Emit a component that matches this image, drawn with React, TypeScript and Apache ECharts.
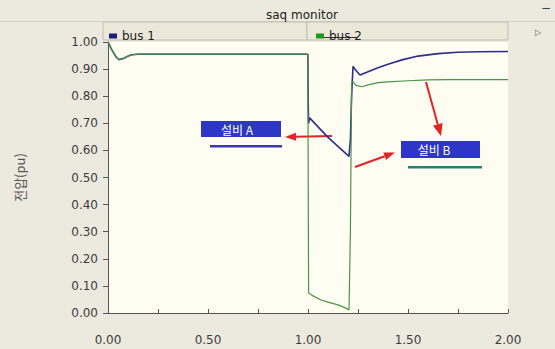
import React, { useEffect, useRef } from "react";
import * as echarts from "echarts";

// ---- data (time in s, voltage in pu) ----
const bus1Time = [0, 0.02, 0.04, 0.055, 0.08, 0.1, 0.12, 0.15, 0.5, 0.999, 1.0, 1.001, 1.003, 1.008, 1.1, 1.205, 1.212, 1.218, 1.225, 1.24, 1.26, 1.3, 1.35, 1.4, 1.47, 1.55, 1.65, 1.75, 1.85, 2.0];
const bus1Volt = [1.0, 0.97, 0.945, 0.935, 0.94, 0.948, 0.953, 0.955, 0.955, 0.955, 0.955, 0.78, 0.7, 0.72, 0.648, 0.578, 0.64, 0.8, 0.91, 0.895, 0.878, 0.89, 0.905, 0.918, 0.934, 0.948, 0.957, 0.962, 0.964, 0.965];
const bus2Time = [0, 0.02, 0.04, 0.055, 0.08, 0.1, 0.12, 0.15, 0.5, 0.999, 1.0, 1.003, 1.02, 1.065, 1.1, 1.15, 1.19, 1.205, 1.212, 1.218, 1.225, 1.24, 1.27, 1.3, 1.35, 1.4, 1.5, 1.6, 1.7, 2.0];
const bus2Volt = [1.0, 0.97, 0.945, 0.935, 0.94, 0.948, 0.953, 0.955, 0.955, 0.955, 0.955, 0.075, 0.065, 0.048, 0.04, 0.03, 0.018, 0.011, 0.3, 0.85, 0.853, 0.84, 0.835, 0.842, 0.85, 0.853, 0.857, 0.86, 0.861, 0.861];

const seriesNames = ["bus 1", "bus 2"];
const yTicks = { min: 0, max: 1, step: 0.1 };
const xTicks = { min: 0, max: 2, step: 0.5 };
const titleText = "saq monitor";
const yAxisTitle = "전압(pu)";
const noteA = "설비 A";
const noteB = "설비 B";

const pairs = (t: number[], v: number[]) => t.map((x, i) => [x, v[i]]);

const FONT = "DejaVu Sans";
const RED = "#e12424";

function arrow(x1: number, y1: number, x2: number, y2: number, len: number, half: number) {
  const dx = x2 - x1, dy = y2 - y1;
  const d = Math.sqrt(dx * dx + dy * dy);
  const ux = dx / d, uy = dy / d;
  const bx = x2 - ux * len, by = y2 - uy * len;
  const px = -uy * half, py = ux * half;
  return [
    { type: "line", shape: { x1, y1, x2: bx, y2: by }, style: { stroke: RED, lineWidth: 2 } },
    { type: "polygon", shape: { points: [[x2, y2], [bx + px, by + py], [bx - px, by - py]] }, style: { fill: RED } },
  ];
}

export default function App() {
  const ref = useRef<HTMLDivElement>(null);
  useEffect(() => {
    if (!ref.current) return;
    const chart = echarts.init(ref.current, null, { renderer: "svg" });
    chart.setOption({
      animation: false,
      backgroundColor: "#ece9de",
      textStyle: { fontFamily: FONT },
      title: {
        text: titleText,
        left: 297,
        top: 4,
        textAlign: "center",
        textStyle: { fontSize: 12, fontWeight: "normal", color: "#222", fontFamily: FONT },
      },
      legend: [
        { data: [seriesNames[0]], left: 104, top: 25, icon: "rect", itemWidth: 8, itemHeight: 5, itemGap: 5, textStyle: { fontSize: 12, color: "#222", fontFamily: FONT }, selectedMode: false },
        { data: [seriesNames[1]], left: 311, top: 25, icon: "rect", itemWidth: 8, itemHeight: 5, itemGap: 5, textStyle: { fontSize: 12, color: "#222", fontFamily: FONT }, selectedMode: false },
      ],
      grid: {
        left: 108,
        right: 47,
        top: 42,
        bottom: 36,
        show: true,
        backgroundColor: "#fffcf1",
        borderWidth: 0,
      },
      xAxis: {
        type: "value",
        min: xTicks.min,
        max: xTicks.max,
        interval: xTicks.step,
        offset: 15,
        axisLine: { show: true, lineStyle: { color: "#555", width: 1 } },
        axisTick: { show: true, inside: true, length: 4, lineStyle: { color: "#555" } },
        minorTick: { show: true, splitNumber: 2, length: 4, lineStyle: { color: "#555" } },
        splitLine: { show: false },
        axisLabel: { margin: 6, fontSize: 12, color: "#3c3c3c", fontFamily: FONT, formatter: (v: number) => v.toFixed(2) },
      },
      yAxis: {
        type: "value",
        min: yTicks.min,
        max: yTicks.max,
        interval: yTicks.step,
        name: yAxisTitle,
        nameLocation: "middle",
        nameRotate: 90,
        nameGap: 82,
        nameTextStyle: { fontSize: 13, color: "#555", fontFamily: "Noto Sans CJK KR" },
        axisLine: { show: true, lineStyle: { color: "#555", width: 1 } },
        axisTick: { show: true, length: 5, lineStyle: { color: "#555" } },
        splitLine: { show: false },
        axisLabel: { margin: 10, fontSize: 12, color: "#3c3c3c", fontFamily: FONT, formatter: (v: number) => v.toFixed(2) },
      },
      series: [
        {
          name: seriesNames[0],
          type: "line",
          data: pairs(bus1Time, bus1Volt),
          showSymbol: false,
          color: "#1c1c80",
          lineStyle: { width: 1.6, color: "#2d2d90" },
        },
        {
          name: seriesNames[1],
          type: "line",
          data: pairs(bus2Time, bus2Volt),
          showSymbol: false,
          color: "#1a9a1a",
          lineStyle: { width: 1.2, color: "#4a944a" },
        },
      ],
      graphic: [
        { type: "rect", z: -1, shape: { x: 0, y: 21, width: 555, height: 1 }, style: { fill: "#d8d4c4" } },
        { type: "rect", z: -1, shape: { x: 103, y: 22, width: 204, height: 18 }, style: { fill: "#ebe8da", stroke: "#c2beae", lineWidth: 1 } },
        { type: "rect", z: -1, shape: { x: 307, y: 22, width: 201, height: 18 }, style: { fill: "#ebe8da", stroke: "#c2beae", lineWidth: 1 } },
        { type: "line", shape: { x1: 324, y1: 37.5, x2: 357, y2: 37.5 }, style: { stroke: "#333", lineWidth: 1 } },
        { type: "text", x: 546, y: 8, style: { text: "−", fontSize: 12, fill: "#444", align: "center", verticalAlign: "middle", fontFamily: FONT } },
        { type: "text", x: 538, y: 32, style: { text: "▷", fontSize: 8, fill: "#555", align: "center", verticalAlign: "middle", fontFamily: FONT } },
        // note A
        { type: "rect", shape: { x: 201, y: 121, width: 80, height: 16 }, style: { fill: "#2d36c6" } },
        { type: "text", x: 237, y: 129, style: { text: noteA, fontSize: 12, fill: "#fff", align: "center", verticalAlign: "middle", fontFamily: "Noto Sans CJK KR" } },
        { type: "rect", shape: { x: 210, y: 145, width: 72, height: 2.5 }, style: { fill: "#3a3aa6" } },
        // note B
        { type: "rect", shape: { x: 401, y: 141, width: 79, height: 17 }, style: { fill: "#2d36c6" } },
        { type: "text", x: 434, y: 149.5, style: { text: noteB, fontSize: 12, fill: "#fff", align: "center", verticalAlign: "middle", fontFamily: "Noto Sans CJK KR" } },
        { type: "rect", shape: { x: 408, y: 166, width: 74, height: 2.5 }, style: { fill: "#2a7f6f" } },
        ...arrow(332, 136, 285, 137, 11, 4),
        ...arrow(355, 167, 395, 152.5, 11, 4),
        ...arrow(426, 82, 441, 136, 12, 5),
      ],
    });
    return () => chart.dispose();
  }, []);
  return <div ref={ref} style={{ position: "fixed", left: 0, top: 0, width: 555, height: 349 }} />;
}
